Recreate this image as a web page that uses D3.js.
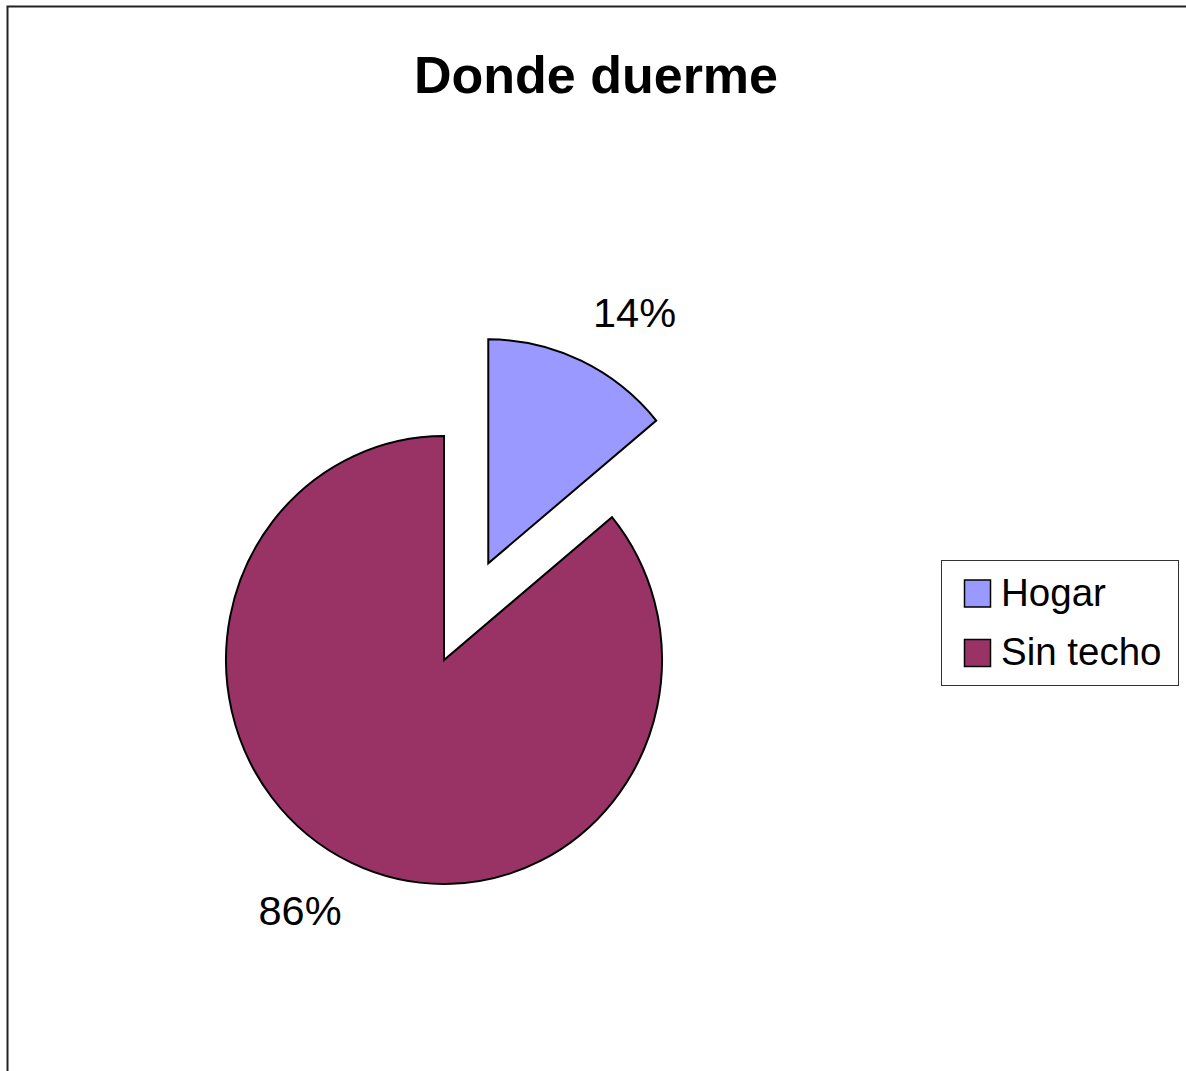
<!DOCTYPE html>
<html>
<head>
<meta charset="utf-8">
<script src="https://cdn.jsdelivr.net/npm/d3@7"></script>
<style>
  html, body { margin: 0; padding: 0; background: #fff; overflow: hidden; }
  svg { display: block; }
</style>
</head>
<body>
<script>
// ---- data ----
const categories = ["Hogar", "Sin techo"];
const values = [14, 86];
const labels = ["14%", "86%"];
const colors = ["#9999FF", "#993366"];
const title = "Donde duerme";
const exploded = [true, false];

const W = 1186, H = 1071;
const svg = d3.select("body").append("svg").attr("width", W).attr("height", H);

// outer chart border (extends beyond the visible window on right/bottom)
svg.append("rect")
  .attr("x", 7.5).attr("y", 6.5)
  .attr("width", 1300).attr("height", 1200)
  .attr("fill", "#fff").attr("stroke", "#222").attr("stroke-width", 2);

// title
svg.append("text")
  .attr("x", 596).attr("y", 93)
  .attr("text-anchor", "middle")
  .attr("font-family", "Liberation Sans, Arial, sans-serif")
  .attr("font-weight", "bold")
  .attr("font-size", 52)
  .attr("fill", "#000")
  .text(title);

// pie
const cx = 444, cy = 660, r = 218, yScale = 224 / 218, explode = 104;
const pie = d3.pie().sort(null).value(d => d)(values);
const arc = d3.arc().innerRadius(0).outerRadius(r);

const g = svg.append("g").attr("transform", `translate(${cx},${cy}) scale(1,${yScale})`);
g.selectAll("path")
  .data(pie)
  .join("path")
  .attr("transform", (d, i) => {
    if (!exploded[i]) return null;
    const a = (d.startAngle + d.endAngle) / 2;
    return `translate(${explode * Math.sin(a)},${-explode * Math.cos(a)})`;
  })
  .attr("d", arc)
  .attr("fill", (d, i) => colors[i])
  .attr("stroke", "#000")
  .attr("stroke-width", 2)
  .attr("stroke-linejoin", "miter")
  .attr("vector-effect", "non-scaling-stroke");

// data labels (outside the slices)
const labelPos = [[634.5, 327], [300, 925]];
svg.selectAll("text.lbl")
  .data(labels)
  .join("text")
  .attr("class", "lbl")
  .attr("x", (d, i) => labelPos[i][0])
  .attr("y", (d, i) => labelPos[i][1])
  .attr("text-anchor", "middle")
  .attr("font-family", "Liberation Sans, Arial, sans-serif")
  .attr("font-size", 41.5)
  .attr("fill", "#000")
  .text(d => d);

// legend
const lg = svg.append("g");
lg.append("rect")
  .attr("x", 941.5).attr("y", 560.5).attr("width", 237).attr("height", 125)
  .attr("fill", "#fff").attr("stroke", "#333").attr("stroke-width", 1);
const legY = d3.scaleBand().domain(categories).range([563.75, 682.75]);
const items = lg.selectAll("g.item").data(categories).join("g").attr("class", "item");
items.append("rect")
  .attr("x", 964.5)
  .attr("y", d => legY(d) + legY.bandwidth() / 2 - 13.5)
  .attr("width", 26).attr("height", 27)
  .attr("fill", (d, i) => colors[i])
  .attr("stroke", "#000").attr("stroke-width", 1.5);
items.append("text")
  .attr("x", 1001)
  .attr("y", d => legY(d) + legY.bandwidth() / 2 + 12)
  .attr("font-family", "Liberation Sans, Arial, sans-serif")
  .attr("font-size", 38.5)
  .attr("fill", "#000")
  .text(d => d);
</script>
</body>
</html>
